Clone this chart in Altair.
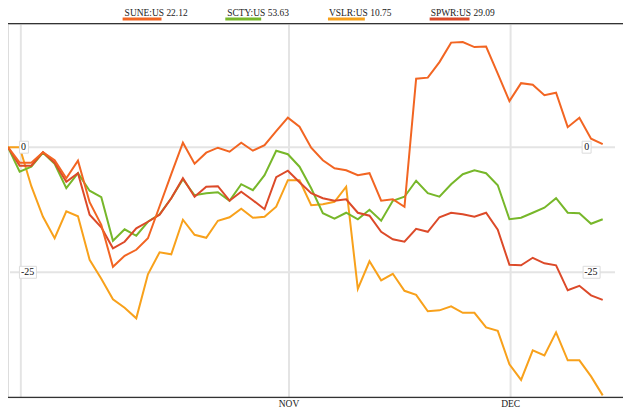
import altair as alt
import pandas as pd

# ---- data (percent change since start, one point per trading day) ----
days = list(range(52))
SUNE = [0, -3.1, -3.1, -1.0, -2.6, -6.2, -2.7, -11.0, -15.5, -23.9, -21.7, -20.5, -18.2, -11.8,
        -5.4, 0.9, -3.3, -1.1, -0.1, -0.9, 0.9, -0.7, 0.4, 3.2, 5.9, 4.1, -0.1, -2.6, -4.2, -4.6,
        -5.6, -5.2, -10.7, -10.4, -11.9, 13.7, 13.9, 17.0, 20.9, 21.0, 20.0, 20.1, 14.7, 9.2,
        12.8, 12.5, 10.4, 10.9, 4.0, 5.9, 1.7, 0.6]
SCTY = [0, -4.9, -3.9, -1.1, -3.3, -8.2, -5.2, -8.7, -10.0, -18.7, -16.4, -17.7, -14.9, -13.4,
        -10.2, -6.4, -9.6, -9.2, -9.0, -10.7, -7.4, -8.6, -5.6, -0.7, -1.4, -3.9, -8.2, -13.2,
        -14.3, -13.1, -14.4, -12.5, -14.7, -10.7, -9.9, -6.7, -9.2, -9.9, -7.4, -5.4, -4.6, -5.2,
        -7.6, -14.4, -14.1, -13.1, -12.1, -10.2, -13.1, -13.2, -15.3, -14.4]
VSLR = [0, 0, -7.8, -13.9, -18.2, -12.8, -13.8, -22.5, -26.3, -30.4, -32.1, -34.2, -25.4, -21.0,
        -21.4, -14.5, -17.5, -18.1, -14.7, -14.0, -12.3, -14.1, -13.9, -11.9, -6.6, -6.6, -11.6,
        -11.4, -10.9, -7.9, -28.3, -22.8, -26.6, -25.3, -28.7, -29.5, -32.8, -32.6, -31.8, -33.1,
        -33.1, -36.0, -36.7, -43.4, -46.5, -40.6, -41.6, -37.0, -42.6, -42.6, -45.8, -49.6]
SPWR = [0, -3.7, -3.7, -1.0, -3.1, -6.9, -5.2, -13.5, -16.0, -20.2, -18.9, -16.2, -14.9, -13.5,
        -10.2, -6.2, -9.9, -7.9, -7.8, -10.7, -8.9, -10.6, -12.4, -6.0, -4.7, -7.0, -9.2, -10.2,
        -10.7, -10.4, -13.1, -13.7, -16.9, -18.4, -18.9, -16.3, -16.9, -14.0, -13.1, -13.4, -13.9,
        -13.1, -16.5, -23.5, -23.6, -22.1, -23.2, -23.6, -28.6, -27.7, -29.6, -30.5]
tickers = ["SUNE:US", "SCTY:US", "VSLR:US", "SPWR:US"]
last_prices = ["22.12", "53.63", "10.75", "29.09"]
month_labels = ["", "NOV", "DEC"]
month_days = [1.1, 24.1, 43.1]
y_ticks = [0, -25]
y_tick_labels = ["0", "-25"]

# ---- styles / layout ----
colors = ["#f26522", "#77b72a", "#f8a11b", "#dc4a29"]
FONT = "Liberation Sans Narrow"
W, H = 617, 375
legend_text_x = [117, 220, 322, 424]
legend_bar_x = [(115, 154), (218, 254), (321, 358), (423, 463)]

series = {"SUNE:US": SUNE, "SCTY:US": SCTY, "VSLR:US": VSLR, "SPWR:US": SPWR}
rows = []
for tk in ["VSLR:US", "SCTY:US", "SPWR:US", "SUNE:US"]:
    for d, v in zip(days, series[tk]):
        rows.append({"day": d, "pct": v, "ticker": tk})
df = pd.DataFrame(rows)

xscale = alt.Scale(domain=[0, 52.74], nice=False, zero=False)
yscale = alt.Scale(domain=[-50, 24.7], nice=False, zero=False)

grid_df = pd.DataFrame({"v": y_ticks, "lab": y_tick_labels})
month_df = pd.DataFrame({"day": month_days, "lab": month_labels})

hgrid = alt.Chart(grid_df).mark_rule(color="#e4e4e4", strokeWidth=2).encode(
    y=alt.Y("v:Q", scale=yscale, axis=None), x=alt.value(2), x2=alt.value(609))
vgrid = alt.Chart(month_df).mark_rule(color="#e4e4e4", strokeWidth=2).encode(
    x=alt.X("day:Q", scale=xscale, axis=None), y=alt.value(0), y2=alt.value(H))

lines = alt.Chart(df).mark_line(strokeWidth=2).encode(
    x=alt.X("day:Q", scale=xscale, axis=None),
    y=alt.Y("pct:Q", scale=yscale, axis=None),
    color=alt.Color("ticker:N", scale=alt.Scale(domain=tickers, range=colors), legend=None),
    detail="ticker:N",
)

frame_df = pd.DataFrame({"k": [0]})
top_line = alt.Chart(frame_df).mark_rule(color="#333333", strokeWidth=1.3).encode(
    x=alt.value(0), x2=alt.value(W), y=alt.value(0))
bottom_line = alt.Chart(frame_df).mark_rule(color="#333333", strokeWidth=1.3).encode(
    x=alt.value(0), x2=alt.value(W), y=alt.value(H))

layers = [hgrid, vgrid, lines, top_line, bottom_line]

# y-axis labels with small boxes, left and right
box_shapes = {"0": "M-0.75,-1L0.75,-1L0.75,1L-0.75,1Z", "-25": "M-1.42,-1L1.42,-1L1.42,1L-1.42,1Z"}
box_left = {"0": 16, "-25": 20}
box_right = {"0": 580.5, "-25": 585.5}
for v, lab in zip(y_ticks, y_tick_labels):
    one = pd.DataFrame({"v": [v], "lab": [lab]})
    for bx, tx in [(box_left[lab], 13), (box_right[lab], 578)]:
        layers.append(alt.Chart(one).mark_point(
            shape=box_shapes[lab], filled=True, fill="white", stroke="#dcdcdc",
            strokeWidth=1, size=144, opacity=1).encode(
            x=alt.value(bx), y=alt.Y("v:Q", scale=yscale, axis=None)))
        layers.append(alt.Chart(one).mark_text(
            align="left", baseline="middle", font=FONT, fontSize=10, color="#111111").encode(
            x=alt.value(tx), y=alt.Y("v:Q", scale=yscale, axis=None), text="lab:N"))

# month labels under the frame
layers.append(alt.Chart(month_df).mark_text(
    align="center", baseline="alphabetic", font=FONT, fontSize=9.5, color="#222222").encode(
    x=alt.X("day:Q", scale=xscale, axis=None), y=alt.value(H + 10), text="lab:N"))

# legend across the top
for tk, pr, col, tx, (b0, b1) in zip(tickers, last_prices, colors, legend_text_x, legend_bar_x):
    one = pd.DataFrame({"t": [f"{tk} {pr}"]})
    layers.append(alt.Chart(one).mark_text(
        align="left", baseline="alphabetic", font=FONT, fontSize=9.5, color="#222222").encode(
        x=alt.value(tx), y=alt.value(-8), text="t:N"))
    layers.append(alt.Chart(one).mark_rule(color=col, strokeWidth=3).encode(
        x=alt.value(b0), x2=alt.value(b1), y=alt.value(-4.5)))

chart = alt.layer(*layers).properties(
    width=W, height=H,
    autosize=alt.AutoSizeParams(type="none"),
    padding={"left": 0, "top": 15, "right": 0, "bottom": 11},
).configure_view(stroke=None).configure(background="white")

chart.save("out.html", embed_options={"renderer": "svg", "actions": False})
